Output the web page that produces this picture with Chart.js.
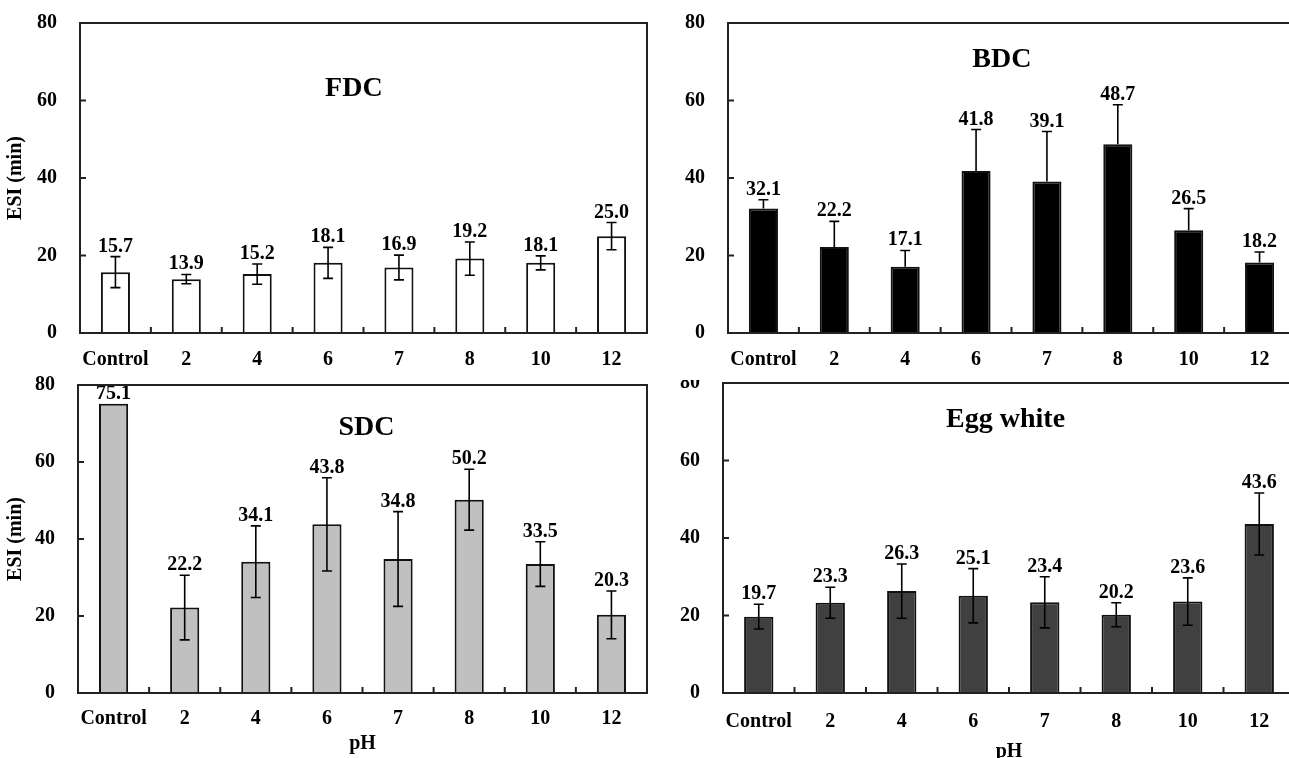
<!DOCTYPE html>
<html>
<head>
<meta charset="utf-8">
<script src="https://cdn.jsdelivr.net/npm/chart.js@4.4.1/dist/chart.umd.min.js"></script>
<style>
  html, body { margin: 0; padding: 0; background: #fff; }
  body { width: 1289px; height: 758px; overflow: hidden; position: relative; }
  canvas { position: absolute; }
</style>
</head>
<body>
<canvas id="fdc" width="660" height="380" style="left:0;top:0"></canvas>
<canvas id="bdc" width="660" height="380" style="left:660px;top:0"></canvas>
<canvas id="sdc" width="660" height="398" style="left:0;top:360px"></canvas>
<canvas id="egg" width="660" height="378" style="left:660px;top:380px"></canvas>
<script>
// dati
const phLabels = ['Control', '2', '4', '6', '7', '8', '10', '12'];
const yTicks = [0, 20, 40, 60, 80];

const fdcValues = [15.7, 13.9, 15.2, 18.1, 16.9, 19.2, 18.1, 25.0];
const fdcErrors = [4.0, 1.2, 2.6, 4.0, 3.2, 4.3, 1.8, 3.5];

const bdcValues = [32.1, 22.2, 17.1, 41.8, 39.1, 48.7, 26.5, 18.2];
const bdcErrors = [2.3, 6.6, 4.2, 10.7, 12.9, 10.2, 5.6, 2.7];

const sdcValues = [75.1, 22.2, 34.1, 43.8, 34.8, 50.2, 33.5, 20.3];
const sdcErrors = [0, 8.4, 9.3, 12.1, 12.3, 7.9, 5.8, 6.2];

const eggValues = [19.7, 23.3, 26.3, 25.1, 23.4, 20.2, 23.6, 43.6];
const eggErrors = [3.2, 4.0, 7.0, 7.0, 6.6, 3.1, 6.1, 8.0];

const FONT = '"Liberation Serif", "Times New Roman", serif';

// disegna barre d'errore, etichette, cornice e titolo del pannello
const panelPlugin = {
    id: 'panel',
    afterDatasetsDraw(chart) {
        const p = chart.options.plugins.panel;
        const ctx = chart.ctx;
        const area = chart.chartArea;
        const x = chart.scales.x;
        const y = chart.scales.y;
        const ds = chart.data.datasets[0].data;

        ctx.save();
        ctx.strokeStyle = '#000';
        ctx.lineWidth = 1.6;
        ds.forEach((v, i) => {
            const err = p.errors[i];
            const cx = x.getPixelForValue(i);
            const top = y.getPixelForValue(v + err);
            const bottom = p.oneSided ? y.getPixelForValue(v) : y.getPixelForValue(v - err);
            if (err > 0) {
                ctx.beginPath();
                ctx.moveTo(cx, top); ctx.lineTo(cx, bottom);
                ctx.moveTo(cx - 5, top); ctx.lineTo(cx + 5, top);
                if (!p.oneSided) { ctx.moveTo(cx - 5, bottom); ctx.lineTo(cx + 5, bottom); }
                ctx.stroke();
            }
            ctx.fillStyle = '#000';
            ctx.font = 'bold 20px ' + FONT;
            ctx.textAlign = 'center';
            ctx.textBaseline = 'alphabetic';
            ctx.fillText(v.toFixed(1), cx, top - 5);
        });

        // cornice
        ctx.strokeStyle = '#222';
        ctx.lineWidth = 2;
        ctx.strokeRect(area.left, area.top, area.right - area.left, area.bottom - area.top);

        // tacche interne
        ctx.beginPath();
        yTicks.slice(1, -1).forEach(t => {
            const py = y.getPixelForValue(t);
            ctx.moveTo(area.left, py); ctx.lineTo(area.left + 6, py);
        });
        for (let i = 0; i < phLabels.length - 1; i++) {
            const px = (x.getPixelForValue(i) + x.getPixelForValue(i + 1)) / 2;
            ctx.moveTo(px, area.bottom); ctx.lineTo(px, area.bottom - 6);
        }
        ctx.stroke();

        // titolo
        ctx.fillStyle = '#000';
        ctx.font = 'bold 28px ' + FONT;
        ctx.textAlign = 'center';
        ctx.textBaseline = 'middle';
        ctx.fillText(p.title, area.left + p.titleX * (area.right - area.left), y.getPixelForValue(p.titleY));
        ctx.restore();
    }
};

function creaPannello(id, cfg) {
    const font = { family: FONT, size: 20, weight: 'bold' };
    return new Chart(document.getElementById(id), {
        type: 'bar',
        data: {
            labels: phLabels,
            datasets: [{
                data: cfg.values,
                backgroundColor: cfg.color,
                borderColor: '#111',
                borderWidth: 2,
                borderSkipped: 'bottom',
                barPercentage: 0.41,
                categoryPercentage: 1
            }]
        },
        options: {
            responsive: false,
            animation: false,
            devicePixelRatio: 1,
            layout: { padding: cfg.pad },
            plugins: {
                legend: { display: false },
                tooltip: { enabled: false },
                panel: { errors: cfg.errors, oneSided: cfg.oneSided, title: cfg.title, titleX: cfg.titleX, titleY: cfg.titleY }
            },
            scales: {
                x: {
                    grid: { display: false, drawTicks: false },
                    border: { display: false },
                    ticks: { color: '#000', font: font, padding: cfg.xPad, maxRotation: 0, autoSkip: false },
                    title: cfg.xTitle
                        ? { display: true, text: 'pH', color: '#000', font: font, padding: { top: 0, bottom: cfg.xTitlePad } }
                        : { display: false },
                    afterFit: s => { s.height = cfg.xH; s.paddingLeft = 0; s.paddingRight = 0; }
                },
                y: {
                    min: 0, max: 80,
                    afterBuildTicks: s => { s.ticks = yTicks.map(v => ({ value: v })); },
                    grid: { display: false, drawTicks: false },
                    border: { display: false },
                    ticks: { color: '#000', font: font, padding: 23 },
                    title: cfg.yTitle
                        ? { display: true, text: 'ESI (min)', color: '#000', font: font, padding: { top: 4, bottom: 4 } }
                        : { display: false },
                    afterFit: s => { s.width = cfg.yW; s.paddingTop = 0; s.paddingBottom = 0; }
                }
            }
        },
        plugins: [panelPlugin]
    });
}

creaPannello('fdc', {
    values: fdcValues, errors: fdcErrors, color: '#ffffff', oneSided: false,
    title: 'FDC', titleX: 0.483, titleY: 63,
    pad: { top: 23, right: 13, left: 0, bottom: 0 }, yW: 80, xH: 47, xPad: 15,
    yTitle: true, xTitle: false
});

creaPannello('bdc', {
    values: bdcValues, errors: bdcErrors, color: '#000000', oneSided: true,
    title: 'BDC', titleX: 0.483, titleY: 70.5,
    pad: { top: 23, right: 25, left: 0, bottom: 0 }, yW: 68, xH: 47, xPad: 15,
    yTitle: false, xTitle: false
});

creaPannello('sdc', {
    values: sdcValues, errors: sdcErrors, color: '#c0c0c0', oneSided: false,
    title: 'SDC', titleX: 0.507, titleY: 69,
    pad: { top: 25, right: 13, left: 0, bottom: 0 }, yW: 78, xH: 65, xPad: 14, xTitlePad: 2,
    yTitle: true, xTitle: true
});

creaPannello('egg', {
    values: eggValues, errors: eggErrors, color: '#404040', oneSided: false,
    title: 'Egg white', titleX: 0.494, titleY: 70.5,
    pad: { top: 3, right: 25, left: 0, bottom: 0 }, yW: 63, xH: 65, xPad: 17, xTitlePad: -6,
    yTitle: false, xTitle: true
});
</script>
</body>
</html>
